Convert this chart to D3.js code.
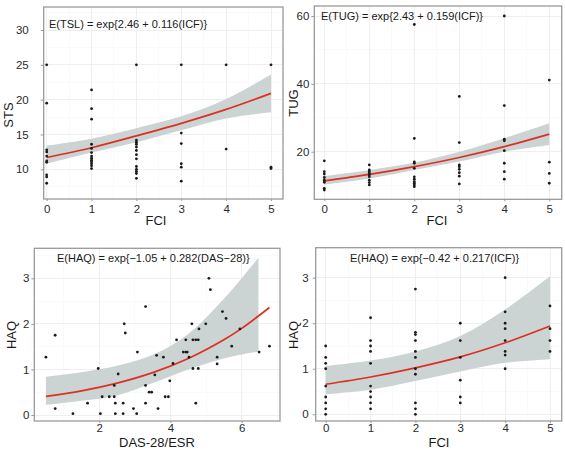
<!DOCTYPE html>
<html>
<head>
<meta charset="utf-8">
<script src="https://cdn.jsdelivr.net/npm/d3@7"></script>
<style>
  body { margin: 0; background: #fff; }
  svg { display: block; font-family: "Liberation Sans", Arial, Helvetica, sans-serif; }
</style>
</head>
<body>
<svg id="chart" width="565" height="456"></svg>
<script>
// ---------------------------------------------------------------------------
// DATA
// ---------------------------------------------------------------------------
const fciLevels = [0, 1, 2, 3, 4, 5];
const stsTicks = [10, 15, 20, 25, 30];
const tugTicks = [20, 40, 60];
const haqTicks = [0, 1, 2, 3];
const dasTicks = [2, 4, 6];

// observations, one list per FCI level (0..5)
const stsByFci = [
  [25, 19.5, 12.8, 12.5, 11.9, 11.2, 11.0, 9.2, 8.9, 8.0],
  [21.4, 18.7, 17.2, 13.6, 13.0, 12.4, 11.9, 11.6, 11.3, 11.1, 10.8, 10.5, 10.1],
  [25, 14.2, 13.9, 13.6, 13.2, 12.7, 12.1, 11.5, 10.4, 10.0, 9.7, 9.4, 8.7],
  [25, 15.2, 13.7, 10.8, 10.3, 8.3],
  [25, 12.9],
  [25, 10.3, 10.1]
];
const tugByFci = [
  [17.3, 14.1, 13.4, 12.4, 11.6, 11.0, 9.2, 8.7],
  [16.1, 14.6, 14.1, 13.6, 13.1, 12.6, 11.6, 10.9, 10.2],
  [57.5, 23.9, 17.0, 16.6, 15.1, 12.6, 11.9, 11.2, 10.7, 10.2, 9.7],
  [36.3, 22.7, 16.1, 15.6, 14.8, 13.8, 12.8, 10.5],
  [60, 33.6, 23.7, 23.2, 20.3, 16.6, 14.1, 11.9],
  [41.1, 16.9, 13.6, 10.7]
];
const haqByFci = [
  [1.5, 1.25, 1.12, 1.0, 0.62, 0.38, 0.25, 0.12, 0],
  [2.12, 1.62, 1.5, 1.38, 1.12, 0.62, 0.5, 0.38, 0.25, 0.12],
  [2.75, 1.8, 1.75, 1.62, 1.38, 1.25, 1.0, 0.88, 0.25, 0.12, 0],
  [2.0, 1.62, 1.25, 0.75, 0.38, 0.25],
  [3.0, 2.25, 2.0, 1.88, 1.62, 1.38, 1.3, 1.0],
  [2.38, 1.88, 1.62, 1.38]
];
const dasValues = [
  0.50, 0.76, 0.76, 1.26, 1.67, 1.97, 2.03, 2.08, 2.28, 2.42, 2.42, 2.45, 2.45, 2.53, 2.67,
  2.67, 2.70, 2.73, 2.96, 3.05, 3.07, 3.30, 3.30, 3.30, 3.40, 3.47, 3.56, 3.61, 3.65, 3.80,
  3.85, 3.94, 3.98, 4.07, 4.17, 4.36, 4.43, 4.47, 4.43, 4.52, 4.60, 4.63, 4.71, 4.78, 4.63,
  4.78, 4.71, 4.80, 4.99, 5.08, 5.12, 5.31, 5.31, 5.46, 5.56, 5.72, 5.95, 6.49, 6.78
];
const dasHaq = [
  1.27, 1.75, 0.14, 0.03, 0.26, 1.02, 0.03, 0.40, 0.40, 0.40, 0.65, 0.26, 0.03, 0.90, 0.26,
  0.03, 2.00, 1.80, 0.14, 0.03, 1.38, 2.38, 0.65, 0.26, 0.50, 0.50, 0.88, 1.31, 0.14, 1.27,
  0.40, 0.40, 0.75, 1.13, 1.65, 1.38, 1.38, 1.38, 1.65, 1.27, 2.00, 1.65, 1.65, 1.65, 1.02,
  1.02, 0.26, 1.89, 2.00, 3.00, 2.75, 1.27, 1.12, 2.27, 2.12, 1.51, 1.89, 1.38, 1.51
];

// fitted curves and confidence bands
const stsFit = [11.7, 13.1, 14.8, 16.6, 18.6, 20.9];
const stsLow = [10.8, 12.4, 13.9, 15.6, 17.3, 18.2];
const stsHigh = [13.4, 14.4, 15.9, 17.6, 20.1, 23.6];

const tugFit = [11.4, 13.3, 15.6, 18.3, 21.5, 25.2];
const tugLow = [10.3, 12.1, 14.6, 17.1, 20.0, 22.0];
const tugHigh = [12.8, 14.6, 16.8, 20.0, 24.0, 28.4];

const haqFciFit = [0.66, 0.82, 1.02, 1.26, 1.57, 1.94];
const haqFciLow = [0.44, 0.54, 0.73, 0.94, 1.13, 1.21];
const haqFciHigh = [1.06, 1.18, 1.38, 1.72, 2.30, 3.03];

const dasFitX = [0.5, 1.5, 2.5, 3.5, 4.5, 5.5, 6.0, 6.78];
const dasFit = [0.41, 0.53, 0.70, 0.93, 1.24, 1.65, 1.90, 2.36];
const dasBandX = [0.5, 1.5, 2.5, 3.5, 4.5, 5.5, 6.0, 6.47];
const dasLow = [0.22, 0.31, 0.43, 0.70, 1.00, 1.24, 1.33, 1.39];
const dasHigh = [0.84, 0.94, 1.08, 1.32, 1.78, 2.55, 3.00, 3.45];

// ---------------------------------------------------------------------------
// HELPERS
// ---------------------------------------------------------------------------
const byLevel = lists => lists.flatMap((vals, i) => vals.map(v => [fciLevels[i], v]));
const zip = (xs, ys) => xs.map((x, i) => [x, ys[i]]);
const bandOf = (xs, lo, hi) => xs.map((x, i) => ({x, lo: lo[i], hi: hi[i]}));

const svg = d3.select('#chart');

const panels = [
  {
    frame: [43.7, 7, 283, 199], xRange: [46.7, 271], yRange: [169.3, 30],
    xDomain: [0, 5], yDomain: [10, 30], xTicks: fciLevels, yTicks: stsTicks,
    points: byLevel(stsByFci), fit: zip(fciLevels, stsFit), band: bandOf(fciLevels, stsLow, stsHigh),
    eq: 'E(TSL) = exp{2.46 + 0.116(ICF)}', eqPos: [49, 28],
    xTitle: 'FCI', xTitlePos: [156, 225], yTitle: 'STS', yTitlePos: [13, 115],
    yLabelGap: 14, xLabelGap: 4
  },
  {
    frame: [314.3, 6, 561.7, 199.3], xRange: [324.3, 549.3], yRange: [151.7, 16],
    xDomain: [0, 5], yDomain: [20, 60], xTicks: fciLevels, yTicks: tugTicks,
    points: byLevel(tugByFci), fit: zip(fciLevels, tugFit), band: bandOf(fciLevels, tugLow, tugHigh),
    eq: 'E(TUG) = exp{2.43 + 0.159(ICF)}', eqPos: [321, 20],
    xTitle: 'FCI', xTitlePos: [437, 225], yTitle: 'TUG', yTitlePos: [298, 103],
    yLabelGap: 4, xLabelGap: 4
  },
  {
    frame: [34.3, 248.3, 280, 421], xRange: [99.3, 241.7], yRange: [415, 278.3],
    xDomain: [2, 6], yDomain: [0, 3], xTicks: dasTicks, yTicks: haqTicks,
    points: zip(dasValues, dasHaq), fit: zip(dasFitX, dasFit), band: bandOf(dasBandX, dasLow, dasHigh),
    eq: 'E(HAQ) = exp{\u22121.05 + 0.282(DAS\u221228)}', eqPos: [57, 261.5],
    xTitle: 'DAS-28/ESR', xTitlePos: [157, 447], yTitle: 'HAQ', yTitlePos: [16, 335],
    yLabelGap: 4, xLabelGap: 1
  },
  {
    frame: [315.7, 247.7, 561.7, 421], xRange: [325.7, 550], yRange: [414.3, 277.7],
    xDomain: [0, 5], yDomain: [0, 3], xTicks: fciLevels, yTicks: haqTicks,
    points: byLevel(haqByFci), fit: zip(fciLevels, haqFciFit), band: bandOf(fciLevels, haqFciLow, haqFciHigh),
    eq: 'E(HAQ) = exp{\u22120.42 + 0.217(ICF)}', eqPos: [350, 261.5],
    xTitle: 'FCI', xTitlePos: [439, 447], yTitle: 'HAQ', yTitlePos: [298, 335],
    yLabelGap: 6, xLabelGap: 1
  }
];

// minor breaks halfway between major ones, plus one step past each end
function minorBreaks(ticks) {
  const step = ticks[1] - ticks[0];
  const out = [ticks[0] - step / 2];
  ticks.forEach(t => out.push(t + step / 2));
  return out;
}

// ---------------------------------------------------------------------------
// DRAW
// ---------------------------------------------------------------------------
panels.forEach(p => {
  const [x0, y0, x1, y1] = p.frame;
  const x = d3.scaleLinear().domain(p.xDomain).range(p.xRange);
  const y = d3.scaleLinear().domain(p.yDomain).range(p.yRange);
  const g = svg.append('g');

  const clipId = 'clip' + Math.round(x0) + Math.round(y0);
  svg.append('clipPath').attr('id', clipId)
    .append('rect').attr('x', x0).attr('y', y0).attr('width', x1 - x0).attr('height', y1 - y0);

  g.append('rect')
    .attr('x', x0).attr('y', y0).attr('width', x1 - x0).attr('height', y1 - y0)
    .attr('fill', '#fff');

  const inX = v => x(v) > x0 && x(v) < x1;
  const inY = v => y(v) > y0 && y(v) < y1;

  // grid
  const grid = g.append('g').attr('shape-rendering', 'crispEdges');
  grid.selectAll('.vmin').data(minorBreaks(p.xTicks).filter(inX)).join('line')
    .attr('x1', d => x(d)).attr('x2', d => x(d)).attr('y1', y0).attr('y2', y1)
    .attr('stroke', '#f6f6f6').attr('stroke-width', 0.6);
  grid.selectAll('.hmin').data(minorBreaks(p.yTicks).filter(inY)).join('line')
    .attr('y1', d => y(d)).attr('y2', d => y(d)).attr('x1', x0).attr('x2', x1)
    .attr('stroke', '#f6f6f6').attr('stroke-width', 0.6);
  grid.selectAll('.vmaj').data(p.xTicks.filter(inX)).join('line')
    .attr('x1', d => x(d)).attr('x2', d => x(d)).attr('y1', y0).attr('y2', y1)
    .attr('stroke', '#efefef').attr('stroke-width', 1);
  grid.selectAll('.hmaj').data(p.yTicks.filter(inY)).join('line')
    .attr('y1', d => y(d)).attr('y2', d => y(d)).attr('x1', x0).attr('x2', x1)
    .attr('stroke', '#efefef').attr('stroke-width', 1);

  const data = g.append('g').attr('clip-path', `url(#${clipId})`);

  // confidence band
  data.append('path')
    .datum(p.band)
    .attr('fill', '#ccd3d3')
    .attr('d', d3.area()
      .x(d => x(d.x)).y0(d => y(d.lo)).y1(d => y(d.hi))
      .curve(d3.curveCatmullRom.alpha(0.5)));

  // fitted curve
  data.append('path')
    .datum(p.fit)
    .attr('fill', 'none')
    .attr('stroke', '#dc3122')
    .attr('stroke-width', 1.7)
    .attr('d', d3.line().x(d => x(d[0])).y(d => y(d[1])).curve(d3.curveCatmullRom.alpha(0.5)));

  // observations
  data.selectAll('circle').data(p.points).join('circle')
    .attr('cx', d => x(d[0])).attr('cy', d => y(d[1]))
    .attr('r', 1.4).attr('fill', '#1a1a1a');

  // panel border
  g.append('rect')
    .attr('x', x0).attr('y', y0).attr('width', x1 - x0).attr('height', y1 - y0)
    .attr('fill', 'none').attr('stroke', '#9a9a9a').attr('stroke-width', 1.3);

  // axes
  const xAxis = g.append('g').attr('transform', `translate(0,${y1})`)
    .call(d3.axisBottom(x).tickValues(p.xTicks).tickSize(2).tickPadding(p.xLabelGap).tickFormat(d3.format('d')));
  const yAxis = g.append('g').attr('transform', `translate(${x0},0)`)
    .call(d3.axisLeft(y).tickValues(p.yTicks).tickSize(3).tickPadding(p.yLabelGap - 2).tickFormat(d3.format('d')));
  [xAxis, yAxis].forEach(a => {
    a.select('.domain').remove();
    a.selectAll('.tick line').attr('stroke', '#9a9a9a');
    a.selectAll('.tick text')
      .attr('fill', '#2b2b2b')
      .attr('font-size', 11.5)
      .attr('font-family', '"Liberation Sans", Arial, sans-serif');
  });

  // equation
  g.append('text')
    .attr('x', p.eqPos[0]).attr('y', p.eqPos[1])
    .attr('font-size', 11).attr('fill', '#1a1a1a')
    .text(p.eq);

  // axis titles
  g.append('text')
    .attr('x', p.xTitlePos[0]).attr('y', p.xTitlePos[1])
    .attr('text-anchor', 'middle').attr('font-size', 13).attr('fill', '#1a1a1a')
    .text(p.xTitle);
  g.append('text')
    .attr('transform', `translate(${p.yTitlePos[0]},${p.yTitlePos[1]}) rotate(-90)`)
    .attr('text-anchor', 'middle').attr('font-size', 13).attr('fill', '#1a1a1a')
    .text(p.yTitle);
});
</script>
</body>
</html>
